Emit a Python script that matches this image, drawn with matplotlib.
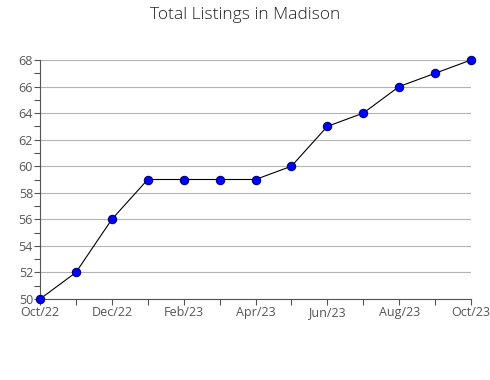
import matplotlib
matplotlib.use("Agg")
import matplotlib.pyplot as plt
from matplotlib.ticker import MultipleLocator

months = ["Oct/22", "Nov/22", "Dec/22", "Jan/23", "Feb/23", "Mar/23", "Apr/23",
          "May/23", "Jun/23", "Jul/23", "Aug/23", "Sep/23", "Oct/23"]
listings = [50, 52, 56, 59, 59, 59, 59, 60, 63, 64, 66, 67, 68]

plt.rcParams['font.family'] = ['Open Sans', 'DejaVu Sans']

fig = plt.figure(figsize=(4.9, 3.8), dpi=100)
ax = fig.add_axes([40 / 490, 1 - 299 / 380, 431 / 490, 239 / 380])

x = list(range(len(months)))
ax.plot(x, listings, color='black', lw=0.8, marker='o', markersize=6,
        markerfacecolor='#0000ff', markeredgecolor='#000080', markeredgewidth=0.8,
        zorder=3, clip_on=False)

ax.set_xlim(0, len(months) - 1)
ax.set_ylim(50, 68)
ax.yaxis.set_major_locator(MultipleLocator(2))
ax.yaxis.set_minor_locator(MultipleLocator(1))
ax.set_xticks(x)
ax.set_xticklabels([m if i % 2 == 0 else "" for i, m in enumerate(months)])

ax.grid(axis='y', which='major', color='#b4b4b4', lw=0.8)
for s in ['top', 'right']:
    ax.spines[s].set_visible(False)
for s in ['left', 'bottom']:
    ax.spines[s].set_color('#555555')
ax.tick_params(axis='both', which='both', colors='#555555', labelcolor='#555555',
               labelsize=9, length=4, width=0.8, pad=1)
ax.tick_params(axis='y', which='minor', length=4)

fig.text(0.5, 1 - 15 / 380, "Total Listings in Madison", ha='center', va='center',
         fontsize=12.5, color='#222222', fontweight='light')

fig.savefig("out.png", dpi=100)
